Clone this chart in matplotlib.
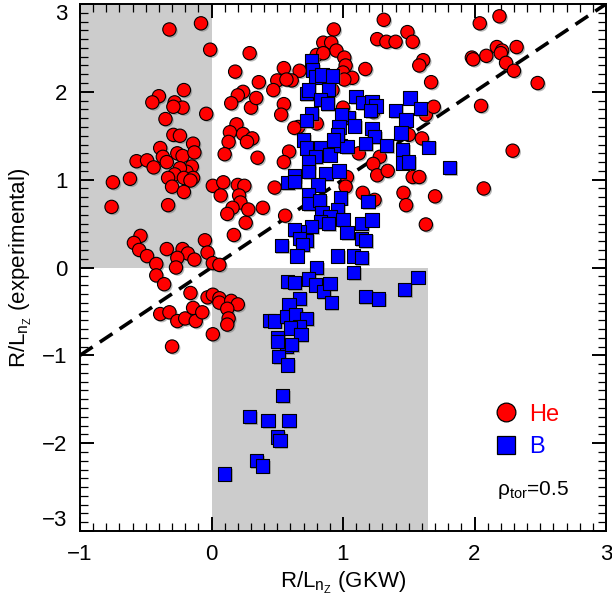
import matplotlib
matplotlib.use("Agg")
import matplotlib.pyplot as plt
import matplotlib.patheffects as pe
from matplotlib.lines import Line2D
from matplotlib.ticker import MultipleLocator

plt.rcParams['font.family'] = ['Liberation Sans', 'DejaVu Sans']
plt.rcParams['mathtext.default'] = 'regular'

# He impurity: GKW prediction vs experimental R/L_nZ
he_gkw = [
    -0.32, -0.08, -0.01, -0.21, -0.40, -0.45, -0.28, -0.22, -0.29, -0.35,
    -0.04, -0.29, -0.24, -0.14, -0.39, -0.57, -0.49, -0.44, -0.37, -0.34,
    -0.26, -0.22, -0.13, -0.15, -0.19, -0.24, -0.28, -0.33, -0.21, -0.14,
    -0.16, -0.30, -0.21, -0.62, -0.75, -0.76, -0.33, -0.54, -0.59, -0.55,
    -0.49, -0.42, -0.42, -0.36, -0.34, -0.22, -0.18, -0.26, -0.27, -0.13,
    -0.05, -0.03, 0.01, 0.06, -0.16, -0.03, 0.01, 0.06, 0.06, 0.15,
    0.20, 0.12, -0.39, -0.32, -0.26, -0.20, -0.14, -0.12, -0.07, 0.13,
    0.12, 0.01, -0.30,
    0.29, 0.18, 0.24, 0.20, 0.15, 0.30, 0.19, 0.14, 0.24, 0.31,
    0.27, 0.13, 0.10, 0.35, 0.01, 0.09, 0.07, 0.20, 0.25, 0.21,
    0.22, 0.16, 0.12, 0.26, 0.17, 0.28, 0.39, 0.56, 0.48,
    1.31, 0.93, 1.26, 1.33, 1.40, 1.49, 1.53, 0.85, 0.91, 0.95,
    0.80, 0.85, 1.01, 1.02, 1.00, 1.07, 1.01, 1.17, 0.55, 0.67,
    0.61, 0.50, 0.57, 0.36, 0.47, 0.34, 0.55, 0.53, 1.61, 1.58,
    1.67, 1.63, 0.66, 0.63, 0.80, 0.59, 0.55, 1.12, 1.28, 1.23,
    1.26, 1.34, 1.50, 1.60, 1.53, 1.58, 1.23, 1.00, 0.92,
    2.19, 2.04, 2.17, 2.21, 2.20, 2.32, 2.09, 1.98, 1.99, 2.24,
    2.30, 2.48, 1.69, 2.05, 2.29,
    1.03, 1.02, 1.15, 1.24, 1.46, 1.48, 1.63, 2.07, 1.70,
]
he_exp = [
    2.71, 2.78, 2.48, 2.02, 1.95, 1.88, 1.88, 1.82, 1.83, 1.69,
    1.75, 1.51, 1.50, 1.41, 1.36, 1.21, 1.22, 1.14, 1.26, 1.20,
    1.30, 1.27, 1.31, 1.15, 1.09, 1.13, 1.06, 1.02, 1.02, 1.02,
    0.99, 0.92, 0.86, 1.01, 0.97, 0.69, 0.71, 0.36, 0.28, 0.20,
    0.13, 0.04, -0.09, -0.19, 0.21, 0.21, 0.16, 0.11, 0.00, 0.09,
    0.31, 0.17, 0.05, 0.03, -0.29, -0.34, -0.31, -0.35, -0.40, -0.38,
    -0.42, -0.47, -0.53, -0.51, -0.61, -0.58, -0.46, -0.61, -0.51, -0.58,
    -0.65, -0.76, -0.90,
    2.44, 2.23, 2.00, 1.96, 1.87, 1.82, 1.63, 1.54, 1.52, 1.47,
    1.43, 1.43, 1.29, 1.25, 0.93, 0.97, 0.82, 0.94, 0.93, 0.82,
    0.74, 0.68, 0.61, 0.51, 0.37, 0.66, 0.68, 0.59, 0.91,
    2.82, 2.71, 2.60, 2.57, 2.57, 2.68, 2.57, 2.56, 2.56, 2.47,
    2.42, 2.44, 2.39, 2.30, 2.22, 2.16, 2.14, 2.26, 2.27, 2.24,
    2.13, 2.13, 2.14, 2.11, 2.02, 1.93, 1.86, 1.74, 2.36, 2.30,
    2.11, 1.74, 1.60, 1.59, 1.64, 1.32, 1.20, 1.30, 1.26, 1.18,
    1.05, 1.10, 1.51, 1.47, 1.03, 1.03, 1.77, 1.82, 2.02,
    2.86, 2.78, 2.51, 2.47, 2.44, 2.51, 2.41, 2.39, 2.37, 2.33,
    2.24, 2.10, 1.83, 1.84, 1.33,
    1.03, 0.92, 0.85, 0.77, 0.85, 0.71, 0.49, 0.90, 0.81,
]

# B impurity: GKW prediction vs experimental R/L_nZ
b_gkw = [
    0.76, 0.77, 0.79, 0.84, 0.92, 0.72, 0.74, 0.89, 0.83, 0.88,
    0.76, 0.72, 1.10, 1.15, 1.22, 1.25, 1.21, 1.04, 0.99, 0.97,
    1.09, 1.51, 1.40, 1.59, 1.48, 1.44, 1.45, 1.22, 1.24, 1.17,
    1.33, 0.70, 0.72, 0.83, 0.79, 0.90, 0.98, 1.03, 0.96, 0.93,
    0.74, 0.74, 0.87, 0.97, 0.63, 1.65, 1.45, 1.50, 1.81, 0.58,
    0.63, 0.81, 0.74, 0.74, 0.82, 0.98, 0.96, 1.19, 0.84, 0.90,
    0.83, 0.89, 1.00, 1.14, 1.22, 0.76, 0.67, 0.63, 0.72, 0.67,
    0.69, 0.53, 0.65, 1.03, 1.14, 1.17, 0.96, 1.08, 1.14, 1.08,
    0.80, 0.58, 0.63, 0.74, 0.79, 0.85, 0.90, 0.91, 0.67, 1.17,
    1.27, 1.47, 1.57, 0.59, 0.44, 0.48, 0.57, 0.64, 0.72, 0.67,
    0.60, 0.68, 0.50, 0.57, 0.50, 0.61, 0.51, 0.58, 0.54, 0.29,
    0.43, 0.59, 0.50, 0.52, 0.34, 0.39, 0.10,
]
b_exp = [
    2.36, 2.25, 2.17, 2.19, 2.18, 1.98, 2.02, 2.03, 1.91, 1.87,
    1.75, 1.67, 1.95, 1.88, 1.89, 1.84, 1.79, 1.71, 1.74, 1.60,
    1.61, 1.93, 1.79, 1.81, 1.68, 1.53, 1.34, 1.58, 1.49, 1.41,
    1.39, 1.45, 1.36, 1.36, 1.26, 1.28, 1.39, 1.38, 1.51, 1.45,
    1.21, 1.09, 1.07, 1.10, 1.05, 1.37, 1.19, 1.20, 1.14, 0.97,
    0.98, 0.94, 0.83, 0.73, 0.76, 0.79, 0.66, 0.75, 0.62, 0.58,
    0.52, 0.50, 0.55, 0.50, 0.54, 0.47, 0.41, 0.43, 0.31, 0.33,
    0.26, 0.25, 0.13, 0.40, 0.33, 0.31, 0.13, 0.13, 0.11, -0.06,
    0.00, -0.16, -0.17, -0.13, -0.20, -0.27, -0.18, -0.40, -0.35, -0.33,
    -0.36, -0.25, -0.11, -0.42, -0.60, -0.61, -0.56, -0.54, -0.58, -0.67,
    -0.69, -0.76, -0.80, -0.90, -0.84, -0.88, -1.01, -1.11, -1.46, -1.70,
    -1.74, -1.74, -1.93, -1.97, -2.20, -2.26, -2.35,
]

x_range = (-1, 3)
y_range = (-3, 3)
x_ticks = [-1, 0, 1, 2, 3]
y_ticks = [-3, -2, -1, 0, 1, 2, 3]

fig = plt.figure(figsize=(6.12, 6.01), dpi=100)
ax = fig.add_axes([80 / 612, 1 - 531 / 601, 526 / 612, 527 / 601])

shade = '#cccccc'
# quadrants where prediction and experiment disagree in sign
ax.fill_between([-1, 0], 0, 3, color=shade, lw=0, zorder=0)
ax.fill_between([0, 1.65], -3, 0, color=shade, lw=0, zorder=0)

ax.plot([-1, 3], [-1, 3], color='black', lw=2.6, dashes=(4.2, 2.4), zorder=1)

shadow = [pe.SimplePatchShadow(offset=(1.2, -1.2), shadow_rgbFace=(0.45, 0.45, 0.45), alpha=0.5),
          pe.Normal()]
ax.scatter(he_gkw, he_exp, s=92, marker='o', facecolor='#ff0000', edgecolor='black',
           linewidths=0.8, zorder=3, path_effects=shadow)
ax.scatter(b_gkw, b_exp, s=92, marker='s', facecolor='#0000ff', edgecolor='black',
           linewidths=0.8, zorder=4, path_effects=shadow)

ax.set_xlim(*x_range)
ax.set_ylim(*y_range)
ax.set_xticks(x_ticks)
ax.set_yticks(y_ticks)
ax.xaxis.set_minor_locator(MultipleLocator(0.1))
ax.yaxis.set_minor_locator(MultipleLocator(0.1))
ax.tick_params(which='both', direction='in', top=True, right=True, colors='black')
ax.tick_params(which='major', length=10, width=1.4, labelsize=16, pad=9)
ax.tick_params(which='minor', length=5.5, width=0.9)
for sp in ax.spines.values():
    sp.set_linewidth(1.4)

# keep the end labels of the y axis inside the frame height
ytk = ax.yaxis.get_major_ticks()
ytk[0].label1.set_verticalalignment('bottom')
ytk[-1].label1.set_verticalalignment('top')

ax.set_xlabel('R/L$_{n_Z}$ (GKW)', fontsize=16, labelpad=4)
ax.set_ylabel('R/L$_{n_Z}$ (experimental)', fontsize=16, labelpad=6)

handles = [
    Line2D([], [], ls='none', marker='o', ms=13.5, mfc='#ff0000', mec='black', mew=0.9),
    Line2D([], [], ls='none', marker='s', ms=13.5, mfc='#0000ff', mec='black', mew=0.9),
]
leg = ax.legend(handles, ['He', 'B'], loc='center left', bbox_to_anchor=(0.765, 0.19),
                frameon=False, fontsize=17, handlelength=1.0, handletextpad=0.5,
                labelspacing=0.45, borderpad=0)
for txt, col in zip(leg.get_texts(), ['#ff0000', '#0000ff']):
    txt.set_color(col)

ax.text(0.793, 0.078, 'ρ$_{tor}$=0.5', transform=ax.transAxes, fontsize=15,
        ha='left', va='center')

fig.savefig('out.png', dpi=100)
